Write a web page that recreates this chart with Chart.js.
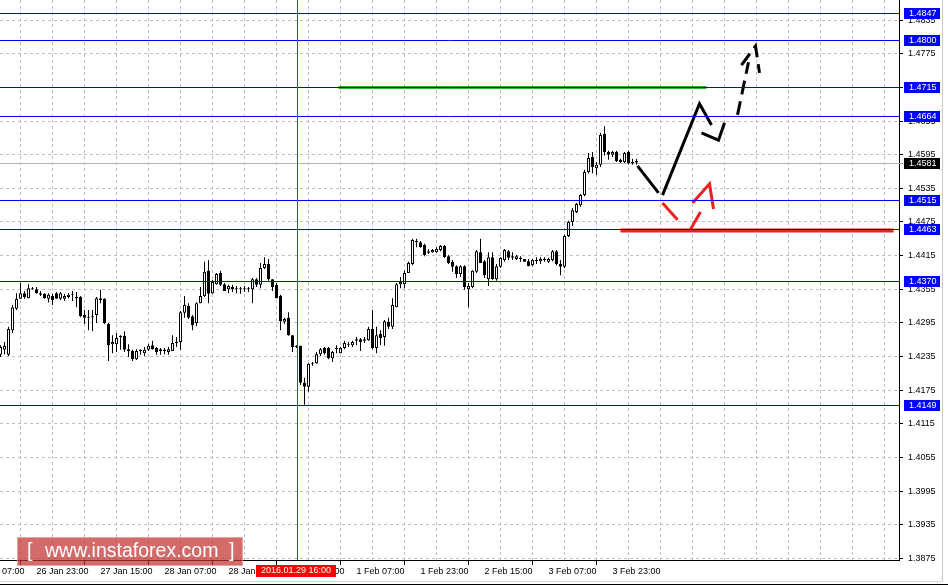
<!DOCTYPE html>
<html>
<head>
<meta charset="utf-8">
<script src="https://cdn.jsdelivr.net/npm/chart.js@4.4.1/dist/chart.umd.min.js"></script>
<style>
  html, body { margin: 0; padding: 0; background: #fff; }
</style>
</head>
<body>
<canvas id="chart" width="948" height="585"></canvas>
<script>
// hourly candles, index 0 = 26 Jan 14:00 ... 159 = 4 Feb 05:00
const open = [
  1.4238,1.4247,1.4238,1.4282,1.4320,1.4338,1.4348,1.4339,1.4357,1.4355,
  1.4348,1.4347,1.4338,1.4343,1.4348,1.4338,1.4338,1.4341,1.4345,1.4341,
  1.4341,1.4309,1.4305,1.4305,1.4309,1.4339,1.4338,1.4293,1.4257,1.4257,
  1.4270,1.4272,1.4248,1.4245,1.4230,1.4245,1.4241,1.4247,1.4255,1.4250,
  1.4245,1.4247,1.4243,1.4245,1.4259,1.4261,1.4313,1.4325,1.4307,1.4295,
  1.4330,1.4343,1.4388,1.4348,1.4364,1.4384,1.4364,1.4355,1.4359,1.4357,
  1.4355,1.4357,1.4355,1.4355,1.4373,1.4363,1.4393,1.4400,1.4373,1.4363,
  1.4343,1.4297,1.4304,1.4273,1.4252,1.4254,1.4188,1.4181,1.4222,1.4223,
  1.4239,1.4250,1.4250,1.4232,1.4248,1.4241,1.4250,1.4257,1.4255,1.4263,
  1.4266,1.4263,1.4264,1.4284,1.4250,1.4275,1.4270,1.4297,1.4288,1.4323,
  1.4364,1.4364,1.4384,1.4400,1.4441,1.4439,1.4434,1.4420,1.4421,1.4421,
  1.4425,1.4432,1.4414,1.4404,1.4396,1.4382,1.4396,1.4355,1.4359,1.4386,
  1.4421,1.4405,1.4373,1.4412,1.4373,1.4395,1.4407,1.4423,1.4411,1.4409,
  1.4411,1.4409,1.4405,1.4398,1.4407,1.4405,1.4409,1.4404,1.4407,1.4423,
  1.4400,1.4395,1.4450,1.4475,1.4493,1.4505,1.4523,1.4564,1.4591,1.4571,
  1.4577,1.4632,1.4600,1.4595,1.4600,1.4586,1.4582,1.4600,1.4580,1.4584
];
const high = [
  1.4255,1.4261,1.4288,1.4327,1.4348,1.4366,1.4352,1.4364,1.4359,1.4359,
  1.4352,1.4348,1.4348,1.4347,1.4350,1.4350,1.4347,1.4348,1.4352,1.4350,
  1.4343,1.4318,1.4318,1.4318,1.4341,1.4354,1.4339,1.4295,1.4273,1.4277,
  1.4273,1.4280,1.4257,1.4247,1.4248,1.4248,1.4252,1.4257,1.4263,1.4252,
  1.4250,1.4250,1.4252,1.4273,1.4270,1.4316,1.4343,1.4330,1.4309,1.4332,
  1.4359,1.4404,1.4407,1.4372,1.4384,1.4388,1.4366,1.4363,1.4363,1.4361,
  1.4359,1.4361,1.4359,1.4375,1.4375,1.4402,1.4412,1.4409,1.4373,1.4366,
  1.4345,1.4304,1.4314,1.4273,1.4255,1.4254,1.4197,1.4223,1.4225,1.4243,
  1.4250,1.4252,1.4252,1.4245,1.4255,1.4252,1.4263,1.4261,1.4263,1.4270,
  1.4268,1.4270,1.4288,1.4318,1.4288,1.4282,1.4300,1.4304,1.4339,1.4366,
  1.4377,1.4389,1.4404,1.4445,1.4445,1.4441,1.4436,1.4427,1.4427,1.4430,
  1.4434,1.4434,1.4416,1.4407,1.4398,1.4398,1.4398,1.4366,1.4389,1.4425,
  1.4445,1.4407,1.4421,1.4421,1.4400,1.4412,1.4427,1.4425,1.4421,1.4416,
  1.4414,1.4409,1.4409,1.4409,1.4412,1.4412,1.4412,1.4411,1.4425,1.4425,
  1.4407,1.4452,1.4477,1.4500,1.4509,1.4525,1.4568,1.4598,1.4600,1.4582,
  1.4634,1.4646,1.4602,1.4602,1.4602,1.4588,1.4600,1.4602,1.4588,1.4588
];
const low = [
  1.4234,1.4239,1.4236,1.4277,1.4318,1.4338,1.4338,1.4339,1.4354,1.4347,
  1.4343,1.4338,1.4332,1.4327,1.4338,1.4336,1.4334,1.4339,1.4334,1.4323,
  1.4305,1.4293,1.4282,1.4280,1.4295,1.4330,1.4293,1.4227,1.4241,1.4243,
  1.4247,1.4243,1.4234,1.4227,1.4229,1.4238,1.4236,1.4245,1.4247,1.4238,
  1.4238,1.4239,1.4238,1.4245,1.4252,1.4247,1.4304,1.4302,1.4282,1.4289,
  1.4330,1.4341,1.4330,1.4347,1.4363,1.4361,1.4352,1.4348,1.4350,1.4348,
  1.4347,1.4350,1.4350,1.4330,1.4359,1.4357,1.4391,1.4370,1.4352,1.4339,
  1.4282,1.4293,1.4272,1.4243,1.4250,1.4184,1.4149,1.4172,1.4218,1.4222,
  1.4236,1.4238,1.4230,1.4225,1.4241,1.4241,1.4248,1.4252,1.4252,1.4255,
  1.4245,1.4259,1.4263,1.4248,1.4241,1.4255,1.4254,1.4284,1.4284,1.4323,
  1.4357,1.4357,1.4384,1.4398,1.4430,1.4429,1.4414,1.4418,1.4420,1.4420,
  1.4423,1.4411,1.4400,1.4386,1.4375,1.4377,1.4354,1.4323,1.4357,1.4384,
  1.4402,1.4375,1.4361,1.4372,1.4370,1.4393,1.4404,1.4407,1.4407,1.4407,
  1.4404,1.4404,1.4396,1.4396,1.4400,1.4400,1.4404,1.4402,1.4405,1.4398,
  1.4380,1.4393,1.4448,1.4468,1.4491,1.4502,1.4521,1.4562,1.4562,1.4559,
  1.4573,1.4593,1.4586,1.4591,1.4582,1.4580,1.4580,1.4578,1.4577,1.4577
];
const close = [
  1.4252,1.4254,1.4284,1.4323,1.4338,1.4348,1.4341,1.4357,1.4355,1.4348,
  1.4345,1.4339,1.4345,1.4336,1.4338,1.4348,1.4343,1.4345,1.4347,1.4339,
  1.4307,1.4304,1.4304,1.4307,1.4339,1.4336,1.4295,1.4255,1.4261,1.4268,
  1.4272,1.4247,1.4245,1.4230,1.4245,1.4247,1.4247,1.4254,1.4248,1.4243,
  1.4248,1.4245,1.4248,1.4259,1.4261,1.4314,1.4327,1.4304,1.4291,1.4330,
  1.4343,1.4386,1.4347,1.4368,1.4382,1.4363,1.4352,1.4361,1.4355,1.4355,
  1.4357,1.4355,1.4357,1.4373,1.4363,1.4393,1.4400,1.4373,1.4359,1.4339,
  1.4298,1.4302,1.4273,1.4252,1.4254,1.4188,1.4181,1.4222,1.4223,1.4239,
  1.4248,1.4241,1.4232,1.4243,1.4250,1.4250,1.4259,1.4255,1.4261,1.4266,
  1.4261,1.4266,1.4284,1.4250,1.4273,1.4268,1.4298,1.4288,1.4327,1.4364,
  1.4368,1.4384,1.4402,1.4443,1.4439,1.4430,1.4416,1.4423,1.4425,1.4427,
  1.4432,1.4412,1.4402,1.4395,1.4382,1.4396,1.4359,1.4361,1.4388,1.4423,
  1.4402,1.4380,1.4412,1.4373,1.4396,1.4411,1.4425,1.4411,1.4414,1.4414,
  1.4409,1.4404,1.4396,1.4407,1.4405,1.4409,1.4407,1.4409,1.4423,1.4400,
  1.4395,1.4450,1.4475,1.4496,1.4507,1.4523,1.4564,1.4589,1.4573,1.4577,
  1.4630,1.4600,1.4595,1.4600,1.4584,1.4582,1.4598,1.4580,1.4582,1.4581
];

// axis ticks
const yTicks = [1.4835,1.4775,1.4715,1.4655,1.4595,1.4535,1.4475,1.4415,1.4355,
                1.4295,1.4235,1.4175,1.4115,1.4055,1.3995,1.3935,1.3875];
const xTickIdx = [-7, 9, 25, 41, 57, 73, 89, 105, 121, 137, 153];
const xTickText = ['26 Jan 07:00','26 Jan 23:00','27 Jan 15:00','28 Jan 07:00','28 Jan 23:00',
                   '29 Jan 15:00','1 Feb 07:00','1 Feb 23:00','2 Feb 15:00','3 Feb 07:00','3 Feb 23:00'];

// horizontal levels and current price
const levels = [1.4847, 1.4800, 1.4715, 1.4664, 1.4515, 1.4463, 1.4370, 1.4149];
const bid = 1.4581;
const crossIdx = 74;
const crossText = '2016.01.29 16:00';

// drawn objects (bar index, price)
const greenX = [84.5, 176.5];
const greenY = [1.4715, 1.4715];
const redLineX = [155, 223.25];
const redLineY = [1.4460, 1.4460];
const blackX = [159.25, 164.5, null, 165.5, 174.75, 177.75, null, 175.25, 179.5, 181];
const blackY = [1.4575, 1.4527, null, 1.4523, 1.4686, 1.4648, null, 1.4634, 1.4621, 1.4652];
const dashX = [184.25, 187, null, 185.25, 188.75, 189.75];
const dashY = [1.4666, 1.4760, null, 1.4755, 1.4789, 1.4741];
const redX = [165.5, 169.25, null, 172.5, 175, null, 173, 177.25, 178.25];
const redY = [1.4509, 1.4479, null, 1.4462, 1.4493, null, 1.4509, 1.4543, 1.4498];

Chart.defaults.font.family = '"Liberation Sans", Arial, sans-serif';
Chart.defaults.font.size = 9;
Chart.defaults.color = '#000';

function pts(xs, ys) {
    return xs.map((v, k) => ({ x: v, y: ys[k] }));
}

function pathSet(xs, ys, color, width, dash) {
    return {
        type: 'line', data: pts(xs, ys), borderColor: color, borderWidth: width,
        borderDash: dash || [], pointRadius: 0, tension: 0, spanGaps: false, order: 0
    };
}

const idx = open.map((_, i) => i);

const overlay = {
    id: 'overlay',
    beforeDatasetsDraw(chart) {
        const { ctx, chartArea: a, scales: { y } } = chart;
        const py = Math.round(y.getPixelForValue(bid)) + 0.5;
        ctx.save();
        ctx.strokeStyle = '#b4b4b4';
        ctx.lineWidth = 1;
        ctx.beginPath(); ctx.moveTo(a.left, py); ctx.lineTo(a.right + 4, py); ctx.stroke();
        ctx.restore();
    },
    afterDatasetsDraw(chart) {
        const { ctx, chartArea: a, scales: { x, y } } = chart;
        ctx.save();
        ctx.lineWidth = 1;
        ctx.strokeStyle = '#0000ff';
        levels.forEach(v => {
            const py = Math.round(y.getPixelForValue(v)) + 0.5;
            ctx.beginPath(); ctx.moveTo(a.left, py); ctx.lineTo(a.right, py); ctx.stroke();
        });
        const cx = Math.round(x.getPixelForValue(crossIdx)) + 0.5;
        ctx.strokeStyle = '#ff0000';
        ctx.beginPath(); ctx.moveTo(cx, a.top); ctx.lineTo(cx, a.bottom); ctx.stroke();
        ctx.restore();
    },
    afterDraw(chart) {
        const { ctx, chartArea: a, scales: { x, y } } = chart;
        ctx.save();
        ctx.font = '9px "Liberation Sans", Arial, sans-serif';
        ctx.textBaseline = 'middle';
        ctx.textAlign = 'left';
        const tag = (v, bg) => {
            const py = Math.round(y.getPixelForValue(v));
            ctx.fillStyle = bg;
            ctx.fillRect(a.right + 5, py - 5, 36, 11);
            ctx.fillStyle = '#fff';
            ctx.fillText(v.toFixed(4), a.right + 10, py + 0.5);
        };
        levels.forEach(v => tag(v, '#0000ff'));
        tag(bid, '#000');

        // crosshair time label
        const cx = Math.round(x.getPixelForValue(crossIdx));
        ctx.fillStyle = '#ff0000';
        ctx.fillRect(cx - 41, a.bottom + 5, 80, 12);
        ctx.fillStyle = '#fff';
        ctx.textAlign = 'center';
        ctx.fillText(crossText, cx - 1, a.bottom + 11);

        // watermark
        ctx.fillStyle = 'rgba(195,50,50,0.72)';
        ctx.fillRect(17, 537, 226, 29);
        ctx.strokeStyle = 'rgba(255,200,200,0.6)';
        ctx.strokeRect(17.5, 537.5, 225, 28);
        ctx.fillStyle = '#fff';
        ctx.font = '20px "Liberation Sans", Arial, sans-serif';
        ctx.textAlign = 'left';
        ctx.fillText('[', 27, 551);
        ctx.fillText(']', 229, 551);
        ctx.font = '19.5px "Liberation Sans", Arial, sans-serif';
        ctx.fillText('www.instaforex.com', 45, 552);

        // window frame
        ctx.lineWidth = 1;
        ctx.strokeStyle = '#c8c8c8';
        ctx.beginPath(); ctx.moveTo(942.5, 0); ctx.lineTo(942.5, 581); ctx.stroke();
        ctx.strokeStyle = '#d8d8d8';
        ctx.beginPath(); ctx.moveTo(0, 581.5); ctx.lineTo(943, 581.5); ctx.stroke();
        ctx.strokeStyle = '#000';
        ctx.beginPath(); ctx.moveTo(0, 584.5); ctx.lineTo(948, 584.5); ctx.stroke();
        ctx.restore();
    }
};

const gridIdx = [];
for (let g = -7; g <= 224; g += 8) gridIdx.push(g);

new Chart(document.getElementById('chart'), {
    type: 'bar',
    data: {
        datasets: [
            {
                data: idx.map(i => ({ x: i, y: [low[i], high[i]] })),
                backgroundColor: '#000', borderWidth: 0, barThickness: 1,
                grouped: false, inflateAmount: 0, order: 3
            },
            {
                data: idx.map(i => ({ x: i, y: [open[i], close[i]] })),
                backgroundColor: idx.map(i => close[i] >= open[i] ? '#fff' : '#000'),
                borderColor: '#000', borderWidth: 1, borderSkipped: false,
                barThickness: 3, minBarLength: 1, grouped: false, inflateAmount: 0, order: 2
            },
            pathSet(greenX, greenY, '#2fb52f', 3),
            pathSet(redLineX, redLineY, '#ee2222', 4),
            pathSet(blackX, blackY, '#000', 3),
            pathSet(dashX, dashY, '#000', 3, [14, 7]),
            pathSet(redX, redY, '#ee2222', 3)
        ]
    },
    options: {
        responsive: false,
        animation: false,
        events: [],
        layout: { padding: 0, autoPadding: false },
        plugins: { legend: { display: false }, tooltip: { enabled: false } },
        scales: {
            x: {
                type: 'linear',
                offset: false,
                min: -0.125,
                max: 224.625,
                afterBuildTicks: s => { s.ticks = gridIdx.map(v => ({ value: v })); },
                afterFit: s => {
                    s.height = 25;
                    s.paddingLeft = 0; s.paddingRight = 0;
                },
                ticks: {
                    autoSkip: false, maxRotation: 0, minRotation: 0, align: 'start', padding: 1,
                    callback: v => {
                        const k = xTickIdx.indexOf(v);
                        return k >= 0 ? xTickText[k] : '';
                    }
                },
                grid: {
                    color: '#c0c0c0',
                    tickLength: 5,
                    tickColor: c => (c.tick && xTickIdx.includes(c.tick.value)) ? '#000' : 'rgba(0,0,0,0)'
                },
                border: { color: '#000', dash: [3, 3] }
            },
            y: {
                type: 'linear',
                position: 'right',
                min: 1.3872,
                max: 1.4871,
                afterBuildTicks: s => { s.ticks = yTicks.map(v => ({ value: v })); },
                afterFit: s => {
                    s.width = 49;
                    s.paddingTop = 0; s.paddingBottom = 0;
                },
                ticks: { padding: 5, callback: v => v.toFixed(4) },
                grid: { color: '#c0c0c0', tickLength: 4, tickColor: '#000' },
                border: { color: '#000', dash: [3, 3] }
            }
        }
    },
    plugins: [overlay]
});
</script>
</body>
</html>
